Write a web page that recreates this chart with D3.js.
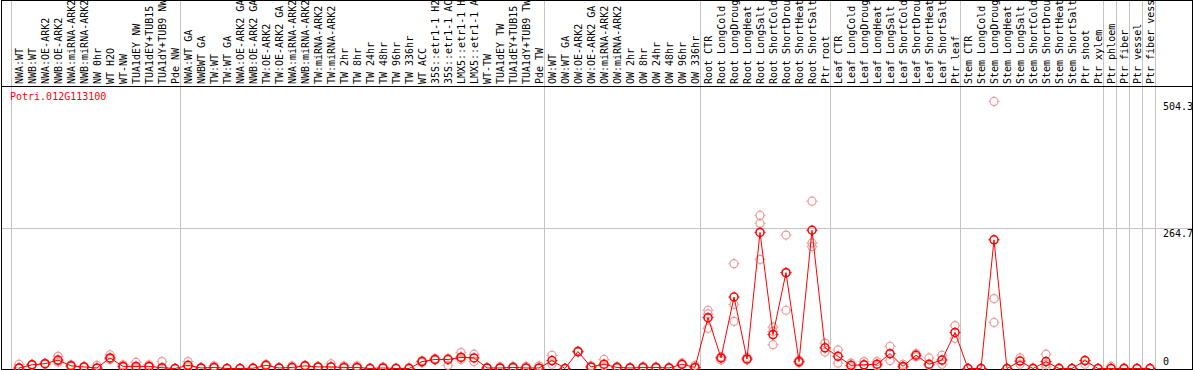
<!DOCTYPE html>
<html lang="en">
<head>
<meta charset="UTF-8">
<title>Potri.012G113100</title>
<script src="https://d3js.org/d3.v7.min.js"></script>
<style>
  body { margin: 0; background: #fff; }
  svg { display: block; }
  text { font-family: "DejaVu Sans Mono", monospace; font-size: 10px; }
</style>
</head>
<body>
<svg id="chart"></svg>
<script>
// sample names, left to right
const samples = [
  "NWA:WT", "NWB:WT", "NWA:OE-ARK2", "NWB:OE-ARK2", "NWA:miRNA-ARK2", "NWB:miRNA-ARK2",
  "NW 0hr", "WT H2O", "WT-NW", "TUA1dEY NW", "TUA1dEY+TUB15 NW", "TUA1dY+TUB9 NW", "Pde NW",
  "NWA:WT GA", "NWBWT GA", "TW:WT", "TW:WT GA", "NWA:OE-ARK2 GA", "NWB:OE-ARK2 GA",
  "TW:OE-ARK2", "TW:OE-ARK2 GA", "NWA:miRNA-ARK2 GA", "NWB:miRNA-ARK2 GA", "TW:miRNA-ARK2",
  "TW:miRNA-ARK2 GA", "TW 2hr", "TW 8hr", "TW 24hr", "TW 48hr", "TW 96hr", "TW 336hr",
  "WT ACC", "35S::etr1-1 H2O", "35S::etr1-1 ACC", "LMX5::etr1-1 H2O", "LMX5::etr1-1 ACC",
  "WT-TW", "TUA1dEY TW", "TUA1dEY+TUB15 TW", "TUA1dY+TUB9 TW", "Pde TW",
  "OW:WT", "OW:WT GA", "OW:OE-ARK2", "OW:OE-ARK2 GA", "OW:miRNA-ARK2", "OW:miRNA-ARK2 GA",
  "OW 2hr", "OW 8hr", "OW 24hr", "OW 48hr", "OW 96hr", "OW 336hr",
  "Root CTR", "Root LongCold", "Root LongDrought", "Root LongHeat", "Root LongSalt",
  "Root ShortCold", "Root ShortDrought", "Root ShortHeat", "Root ShortSalt", "Ptr root",
  "Leaf CTR", "Leaf LongCold", "Leaf LongDrought", "Leaf LongHeat", "Leaf LongSalt",
  "Leaf ShortCold", "Leaf ShortDrought", "Leaf ShortHeat", "Leaf ShortSalt", "Ptr leaf",
  "Stem CTR", "Stem LongCold", "Stem LongDrought", "Stem LongHeat", "Stem LongSalt",
  "Stem ShortCold", "Stem ShortDrought", "Stem ShortHeat", "Stem ShortSalt", "Ptr shoot", "Ptr xylem",
  "Ptr phloem", "Ptr fiber", "Ptr vessel", "Ptr fiber vessel"
];

// number of samples in each separated block
const groupSizes = [13, 28, 12, 10, 10, 11, 1, 1, 1, 1];

// mean expression per sample
const meanValues = [
  1, 7, 9, 16, 5, 3, 1, 20, 4, 4, 4, 1.5, 0,
  6, 1, 2, 0, 0, 0.5, 6, 1, 2, 5, 3, 3, 2, 2, 0, 1, 0, 0,
  13, 17, 17, 21, 20, 1, 1, 2, 1, 1,
  15, 0, 32, 3, 8, 2, 1, 2, 2, 1, 8, 2,
  96, 20, 135, 18, 257, 64, 181, 13, 261, 39,
  23, 6, 7, 8, 28, 4, 25, 8, 16, 68,
  0, 0, 243, 0, 14, 0, 13, 0, 0, 15, 0,
  0, 0, 0, 0
];

// individual replicates per sample
const replicates = [
  [8, 0, 1], [8, 6], [10, 8], [23, 12, 14], [7, 4], [4, 2], [6, 0], [26, 18, 17], [7, 3], [12, 1], [7, 3], [13, 0], [0, 0],
  [13, 3], [2, 0], [5, 1], [0, 0], [0, 0], [1, 0], [8, 5], [2, 1], [5, 1], [6, 4], [4, 2], [9, 3], [5, 1], [5, 1], [1, 0], [3, 0], [1, 0], [2, 0],
  [15, 11], [19, 16], [19, 6], [30, 22, 17], [27, 13], [2, 0], [3, 0], [4, 1], [4, 0], [5, 0],
  [25, 8], [0, 0], [33, 31], [5, 2], [17, 5], [4, 1], [2, 0], [4, 1], [3, 1], [2, 0], [10, 7], [6, 1],
  [110, 103, 76], [22, 16], [198, 121, 89], [21, 16], [289, 274, 206], [78, 70, 45], [252, 181, 110], [16, 11], [316, 237, 230], [48, 31],
  [35, 10], [10, 3], [13, 6], [13, 5], [42, 15], [8, 2], [28, 22], [20, 6], [25, 8], [81, 57],
  [0, 0], [0, 0], [504.3, 132, 87], [0, 0], [20, 8], [1, 0], [27, 8, 3], [1, 0], [0, 0], [15, 8], [0, 0],
  [4, 0], [1, 0], [0, 0], [0, 0]
];

const yTicks = [0, 264.7, 504.3];
const geneName = "Potri.012G113100";

const W = 1194, H = 370;
const frameLeft = 1.5, frameRight = 1192.5, frameTop = 0.5, headerBottom = 86.5, frameBottom = 369.5;

const svg = d3.select("#chart").attr("width", W).attr("height", H);

const x = d3.scaleBand()
  .domain(d3.range(samples.length))
  .range([12.5, 12.5 + 13 * samples.length]);
const cx = i => x(i) + x.bandwidth() / 2;

const y = d3.scaleLinear().domain([0, 264.7]).range([368.5, 228.3]);

// group separator lines
const bounds = [0];
groupSizes.forEach(n => bounds.push(bounds[bounds.length - 1] + n));
const bx = b => Math.floor(b < samples.length ? x(b) : x(samples.length - 1) + x.bandwidth()) - 0.5;

svg.append("g")
  .selectAll("line")
  .data(bounds)
  .join("line")
  .attr("x1", bx).attr("x2", bx)
  .attr("y1", frameTop).attr("y2", frameBottom)
  .attr("stroke", "#c4c4c4").attr("stroke-width", 1);

// horizontal grid at middle tick
svg.append("line")
  .attr("x1", frameLeft).attr("x2", frameRight)
  .attr("y1", Math.round(y(264.7)) + 0.5).attr("y2", Math.round(y(264.7)) + 0.5)
  .attr("stroke", "#c4c4c4");

// frame
svg.append("rect")
  .attr("x", frameLeft).attr("y", frameTop)
  .attr("width", frameRight - frameLeft).attr("height", frameBottom - frameTop)
  .attr("fill", "none").attr("stroke", "#000");
svg.append("line")
  .attr("x1", frameLeft).attr("x2", frameRight)
  .attr("y1", headerBottom).attr("y2", headerBottom)
  .attr("stroke", "#000");

// sample labels
svg.append("g")
  .selectAll("text")
  .data(samples)
  .join("text")
  .attr("transform", (d, i) => `translate(${cx(i) + 3.5},84) rotate(-90)`)
  .attr("fill", "#000")
  .text(d => d);

// y tick labels
svg.append("g")
  .selectAll("text")
  .data(yTicks)
  .join("text")
  .attr("x", 1163)
  .attr("y", d => Math.min(y(d) + 8.5, 365))
  .attr("fill", "#000")
  .text(d => d);

// gene name
svg.append("text")
  .attr("x", 10).attr("y", 100)
  .attr("fill", "#ff0000")
  .text(geneName);

const plot = svg.append("g");

function marker(g, px, py, color, sw) {
  g.append("circle").attr("cx", px).attr("cy", py).attr("r", 4)
    .attr("fill", "none").attr("stroke", color).attr("stroke-width", sw);
  [[0, -1], [0, 1], [-1, 0], [1, 0]].forEach(([dx, dy]) => {
    g.append("line")
      .attr("x1", px + dx * 4).attr("y1", py + dy * 4)
      .attr("x2", px + dx * 5.5).attr("y2", py + dy * 5.5)
      .attr("stroke", color).attr("stroke-width", 1);
  });
}

// replicate points
const repG = plot.append("g");
replicates.forEach((reps, i) => {
  reps.forEach(v => marker(repG, cx(i), y(v), "#ee9a9a", 1.2));
});

// mean line
plot.append("path")
  .datum(meanValues)
  .attr("fill", "none")
  .attr("stroke", "#ff0000")
  .attr("stroke-width", 1)
  .attr("d", d3.line().x((d, i) => cx(i)).y(d => y(d)));

const meanG = plot.append("g");
meanValues.forEach((v, i) => marker(meanG, cx(i), y(v), "#ff0000", 1.5));
</script>
</body>
</html>
